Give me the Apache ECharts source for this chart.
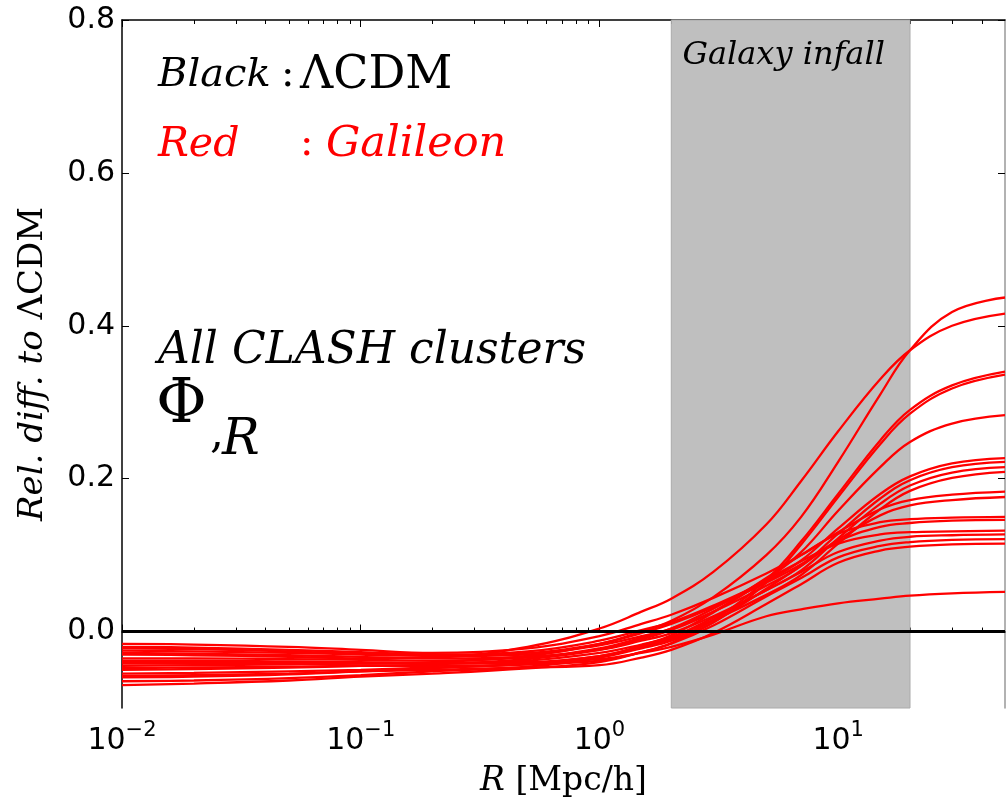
<!DOCTYPE html>
<html><head><meta charset="utf-8">
<script src="https://cdn.jsdelivr.net/npm/echarts@6/dist/echarts.min.js"></script>
<style>html,body{margin:0;padding:0;background:#fff}#c{width:1006px;height:805px}</style>
</head><body><div id="c"></div>
<script>
// ---- data ----
const radius = [0.01,0.02,0.05,0.1,0.2,0.5,1,1.5,2,3,5,7,10,15,20,30,50];
const galA  = [-0.045,-0.044,-0.043,-0.042,-0.040,-0.032,-0.016,0.000,0.014,0.045,0.100,0.150,0.222,0.310,0.368,0.418,0.437];
const galB  = [-0.030,-0.031,-0.033,-0.035,-0.034,-0.020,0.004,0.026,0.043,0.078,0.140,0.197,0.262,0.330,0.368,0.400,0.416];
const galC1 = [-0.060,-0.059,-0.056,-0.052,-0.048,-0.042,-0.032,-0.020,-0.010,0.015,0.068,0.118,0.180,0.250,0.290,0.322,0.340];
const galC2 = [-0.055,-0.054,-0.052,-0.050,-0.047,-0.043,-0.034,-0.022,-0.012,0.012,0.064,0.114,0.176,0.245,0.285,0.318,0.336];
const galD  = [-0.050,-0.049,-0.047,-0.045,-0.043,-0.036,-0.024,-0.010,0.002,0.026,0.068,0.104,0.158,0.215,0.248,0.272,0.283];
const galE  = [-0.020,-0.021,-0.024,-0.027,-0.030,-0.026,-0.012,0.002,0.012,0.034,0.066,0.093,0.135,0.180,0.203,0.220,0.227];
const galF  = [-0.025,-0.026,-0.028,-0.030,-0.032,-0.030,-0.018,-0.006,0.004,0.026,0.060,0.086,0.128,0.174,0.198,0.215,0.222];
const galG  = [-0.035,-0.035,-0.036,-0.037,-0.038,-0.034,-0.024,-0.012,-0.002,0.020,0.054,0.080,0.122,0.167,0.191,0.208,0.215];
const galH  = [-0.040,-0.040,-0.040,-0.041,-0.041,-0.038,-0.028,-0.017,-0.007,0.015,0.048,0.074,0.115,0.160,0.184,0.201,0.209];
const galI  = [-0.016,-0.017,-0.020,-0.024,-0.028,-0.022,-0.006,0.010,0.022,0.044,0.076,0.100,0.130,0.160,0.172,0.179,0.183];
const galJ  = [-0.022,-0.023,-0.026,-0.029,-0.031,-0.028,-0.016,-0.002,0.010,0.032,0.064,0.088,0.120,0.152,0.165,0.172,0.176];
const galK  = [-0.065,-0.064,-0.061,-0.057,-0.052,-0.046,-0.034,-0.018,-0.005,0.025,0.070,0.100,0.128,0.143,0.147,0.149,0.150];
const galL  = [-0.070,-0.068,-0.064,-0.059,-0.055,-0.048,-0.040,-0.027,-0.015,0.012,0.056,0.086,0.118,0.137,0.142,0.145,0.146];
const galM  = [-0.028,-0.029,-0.031,-0.033,-0.035,-0.033,-0.022,-0.008,0.004,0.030,0.068,0.092,0.115,0.127,0.130,0.131,0.132];
const galN  = [-0.038,-0.038,-0.039,-0.040,-0.041,-0.040,-0.032,-0.020,-0.008,0.018,0.054,0.078,0.104,0.119,0.124,0.126,0.127];
const galO  = [-0.048,-0.047,-0.046,-0.045,-0.045,-0.043,-0.038,-0.027,-0.016,0.008,0.046,0.070,0.097,0.112,0.117,0.120,0.121];
const galP  = [-0.058,-0.057,-0.055,-0.052,-0.050,-0.047,-0.044,-0.034,-0.024,-0.002,0.036,0.062,0.090,0.106,0.111,0.114,0.115];
const galQ  = [-0.042,-0.042,-0.042,-0.042,-0.042,-0.041,-0.036,-0.028,-0.020,-0.004,0.020,0.029,0.037,0.043,0.047,0.050,0.052];
const galileonCurves = [galA,galB,galC1,galC2,galD,galE,galF,galG,galH,galI,galJ,galK,galL,galM,galN,galO,galP,galQ];
const lcdmR = [0.01, 50];
const lcdmValues = [0, 0];
const infallBand = [2, 20];
const xRange = [0.01, 50];
const yRange = [-0.1, 0.8];
const xMajorTicks = [0.01, 0.1, 1, 10];
const xMinorTicks = [0.02,0.03,0.04,0.05,0.06,0.07,0.08,0.09,0.2,0.3,0.4,0.5,0.6,0.7,0.8,0.9,2,3,4,5,6,7,8,9,20,30,40];
const yTicks = [0, 0.2, 0.4, 0.6, 0.8];

// ---- chart ----
const SERIF = 'DejaVu Serif';
const SANS = 'DejaVu Sans';
const NB = '\u00A0';
const chart = echarts.init(document.getElementById('c'), null, {renderer: 'canvas'});

function expLabel(v) {
  const e = Math.round(Math.log10(v));
  return '{b|10}{s|' + (e < 0 ? '\u2212' + (-e) : e) + '}';
}
const xLabelRich = {
  b: {fontFamily: SANS, fontSize: 30, color: '#000', lineHeight: 36, verticalAlign: 'bottom'},
  s: {fontFamily: SANS, fontSize: 21, color: '#000', lineHeight: 22, verticalAlign: 'top'}
};

function xAxisBase(pos, ticks, len, showLine, showLabel) {
  return {
    type: 'log', logBase: 10, min: xRange[0], max: xRange[1], position: pos, gridIndex: 0,
    axisLine: {show: showLine, lineStyle: {color: '#000', width: 1.5}},
    axisTick: {show: true, inside: true, length: len, customValues: ticks, lineStyle: {color: '#000', width: 1}},
    axisLabel: showLabel ? {show: true, customValues: ticks, margin: 12, formatter: expLabel, rich: xLabelRich} : {show: false},
    splitLine: {show: false}, minorTick: {show: false}
  };
}

const series = [];
series.push({
  type: 'line', xAxisIndex: 0, yAxisIndex: 0, z: 1, silent: true, symbol: 'none',
  data: lcdmR.map((r, i) => [r, lcdmValues[i]]), lineStyle: {opacity: 0},
  markArea: {
    silent: true,
    itemStyle: {color: '#bfbfbf', borderColor: '#aaaaaa', borderWidth: 1},
    label: {show: true, position: 'insideTop', distance: 18, offset: [-7, 2], formatter: 'Galaxy infall',
            fontFamily: SERIF, fontStyle: 'italic', fontSize: 32, color: '#000'},
    data: [[{xAxis: infallBand[0]}, {xAxis: infallBand[1]}]]
  }
});
galileonCurves.forEach((c, k) => {
  series.push({
    type: 'line', xAxisIndex: 0, yAxisIndex: 0, z: 2, silent: true, symbol: 'none',
    smooth: 0.4,
    data: radius.map((r, i) => [r, c[i]]),
    lineStyle: {color: '#ff0000', width: 2.3}
  });
});
series.push({
  type: 'line', xAxisIndex: 0, yAxisIndex: 0, z: 3, silent: true, symbol: 'none',
  data: lcdmR.map((r, i) => [r, lcdmValues[i]]),
  lineStyle: {color: '#000', width: 3}
});

function txt(x, y, s, font, color) {
  return {type: 'text', x: x, y: y, z: 100, silent: true,
          style: {text: s, verticalAlign: 'middle', font: font, fill: color}};
}

const option = {
  animation: false,
  backgroundColor: '#fff',
  grid: {left: 122, right: 1, top: 20, bottom: 97, containLabel: false},
  xAxis: [
    Object.assign(xAxisBase('bottom', xMajorTicks, 7, true, true), {
      name: '{i|R' + NB + '}{u|[Mpc/h]}', nameLocation: 'middle', nameGap: 57,
      nameTextStyle: {rich: {
        i: {fontFamily: SERIF, fontStyle: 'italic', fontSize: 33, color: '#000'},
        u: {fontFamily: SERIF, fontSize: 33, color: '#000'}}}
    }),
    xAxisBase('bottom', xMinorTicks, 4, false, false),
    xAxisBase('top', xMajorTicks, 7, true, false),
    xAxisBase('top', xMinorTicks, 4, false, false)
  ],
  yAxis: [
    {
      type: 'value', min: yRange[0], max: yRange[1], position: 'left',
      axisLine: {show: true, lineStyle: {color: '#000', width: 1.5}},
      axisTick: {show: true, inside: true, length: 7, customValues: yTicks, lineStyle: {color: '#000'}},
      axisLabel: {show: true, customValues: yTicks, margin: 7, fontFamily: SANS, fontSize: 30, color: '#000',
                  formatter: v => v.toFixed(1)},
      splitLine: {show: false},
      name: '{i|Rel. diff. to' + NB + '}{u|\u039BCDM}', nameLocation: 'middle', nameGap: 72,
      nameTextStyle: {rich: {
        i: {fontFamily: SERIF, fontStyle: 'italic', fontSize: 34, color: '#000'},
        u: {fontFamily: SERIF, fontSize: 34, color: '#000'}}}
    },
    {
      type: 'value', min: yRange[0], max: yRange[1], position: 'right',
      axisLine: {show: true, lineStyle: {color: '#999', width: 1.5}},
      axisTick: {show: true, inside: true, length: 7, customValues: yTicks, lineStyle: {color: '#000'}},
      axisLabel: {show: false}, splitLine: {show: false}
    }
  ],
  graphic: [
    txt(158, 76, 'Black', 'italic 40px "DejaVu Serif"', '#000'),
    txt(281, 76, ':', '40px "DejaVu Serif"', '#000'),
    txt(300, 76, '\u039BCDM', '46px "DejaVu Serif"', '#000'),
    txt(158, 145, 'Red', 'italic 41px "DejaVu Serif"', '#ff0000'),
    txt(300, 145, ':', '40px "DejaVu Serif"', '#ff0000'),
    txt(326, 145, 'Galileon', 'italic 43px "DejaVu Serif"', '#ff0000'),
    txt(158, 352, 'All CLASH clusters', 'italic 44px "DejaVu Serif"', '#000'),
    txt(156, 406, '\u03A6', '62px "DejaVu Serif"', '#000'),
    txt(210, 436, ',', '44px "DejaVu Serif"', '#000'),
    txt(222, 441, 'R', 'italic 50px "DejaVu Serif"', '#000')
  ],
  series: series
};
chart.setOption(option);
</script></body></html>
